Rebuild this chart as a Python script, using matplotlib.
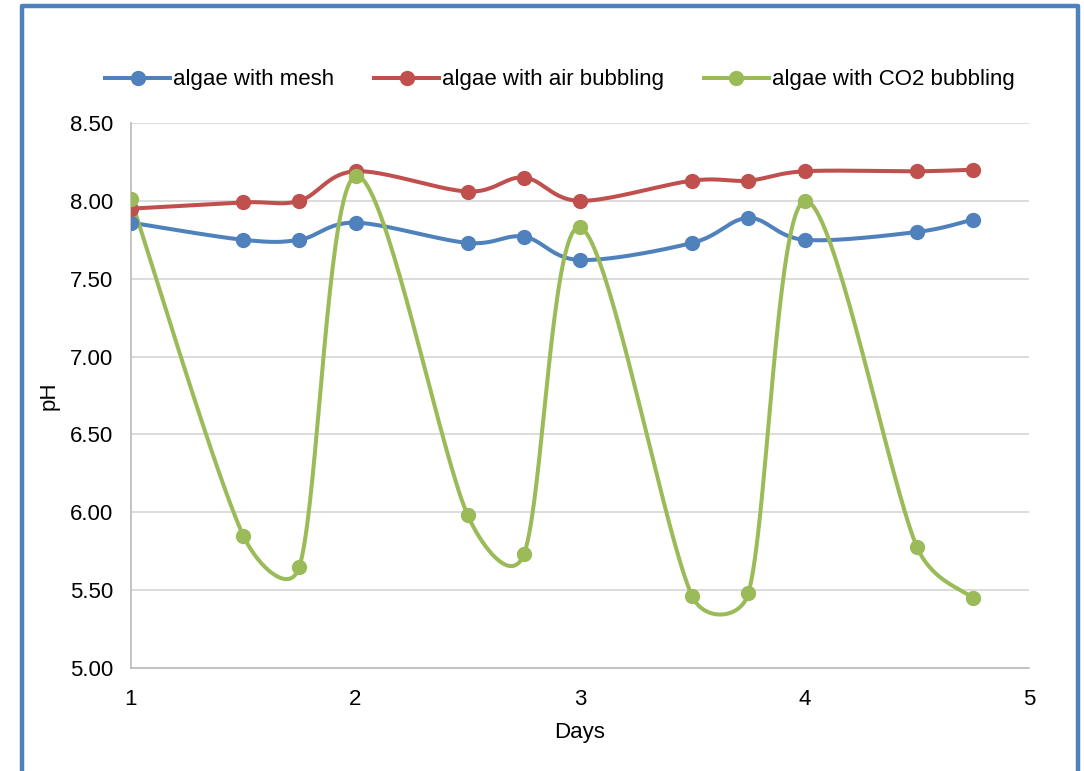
import numpy as np
import matplotlib
matplotlib.use("Agg")
import matplotlib.pyplot as plt
from matplotlib.lines import Line2D

plt.rcParams['font.family'] = ['Liberation Sans', 'DejaVu Sans']

days = [1, 1.5, 1.75, 2, 2.5, 2.75, 3, 3.5, 3.75, 4, 4.5, 4.75]
mesh = [7.86, 7.75, 7.75, 7.86, 7.73, 7.77, 7.62, 7.73, 7.89, 7.75, 7.80, 7.88]
air = [7.95, 7.99, 8.00, 8.19, 8.06, 8.15, 8.00, 8.13, 8.13, 8.19, 8.19, 8.20]
co2 = [8.01, 5.85, 5.65, 8.16, 5.98, 5.73, 7.83, 5.46, 5.48, 8.00, 5.78, 5.45]

series_names = ["algae with mesh", "algae with air bubbling", "algae with CO2 bubbling"]
colors = ["#4F81BD", "#C0504D", "#9BBB59"]
xticks = [1, 2, 3, 4, 5]
yticks = [5.0, 5.5, 6.0, 6.5, 7.0, 7.5, 8.0, 8.5]

W, H = 1084, 771
fig = plt.figure(figsize=(W / 100, H / 100), dpi=100)
ax = fig.add_axes([131 / W, 1 - 668 / H, (1029 - 131) / W, (668 - 123) / H])
ax.set_xlim(1, 5)
ax.set_ylim(5, 8.5)


def smooth(xs, ys, n=40):
    pts = ax.transData.transform(np.column_stack([xs, ys]))
    m = len(pts)
    out = [pts[0]]
    for i in range(m - 1):
        p0 = pts[i - 1] if i > 0 else pts[i]
        p1 = pts[i]
        p2 = pts[i + 1]
        p3 = pts[i + 2] if i + 2 < m else pts[i + 1]
        seg = np.linalg.norm(p2 - p1)
        t1 = (p2 - p0) / 6.0
        t2 = (p3 - p1) / 6.0
        n1 = np.linalg.norm(t1)
        n2 = np.linalg.norm(t2)
        cap = seg * 0.5
        if n1 > cap and n1 > 0:
            t1 = t1 * cap / n1
        if n2 > cap and n2 > 0:
            t2 = t2 * cap / n2
        c1 = p1 + t1
        c2 = p2 - t2
        t = np.linspace(0, 1, n)[1:, None]
        b = ((1 - t) ** 3) * p1 + 3 * ((1 - t) ** 2) * t * c1 + 3 * (1 - t) * t ** 2 * c2 + t ** 3 * p2
        out.extend(b)
    out = np.array(out)
    return ax.transData.inverted().transform(out)


for name, vals, c in zip(series_names, [mesh, air, co2], colors):
    curve = smooth(days, vals)
    ax.plot(curve[:, 0], curve[:, 1], color=c, lw=2.9, solid_capstyle='round', zorder=3)
    ax.plot(days, vals, 'o', color=c, ms=10, zorder=4)

ax.set_xticks(xticks)
ax.set_xticklabels([str(v) for v in xticks])
ax.set_yticks(yticks)
ax.set_yticklabels([f"{v:.2f}" for v in yticks])
ax.tick_params(axis='both', length=0, labelsize=16, colors='black')
ax.tick_params(axis='x', pad=15)
ax.tick_params(axis='y', pad=13)
ax.grid(axis='y', color='#D9D9D9', lw=1.3, zorder=0)
ax.set_axisbelow(True)
for s in ['top', 'right']:
    ax.spines[s].set_visible(False)
for s in ['left', 'bottom']:
    ax.spines[s].set_color('#BFBFBF')
    ax.spines[s].set_linewidth(1.3)
ax.set_xlabel("Days", fontsize=16, labelpad=9)
ax.set_ylabel("pH", fontsize=16, labelpad=7)

handles = [Line2D([], [], color=c, lw=2.9, marker='o', ms=10) for c in colors]
fig.legend(handles, series_names, loc='center', bbox_to_anchor=(560 / W, 1 - 80 / H),
           ncol=3, frameon=False, fontsize=16, handlelength=2.9, handletextpad=0.15,
           columnspacing=1.8)

bc = '#4F81BD'
fig.add_artist(Line2D([22 / W, 22 / W, 1078 / W, 1078 / W], [0, 1 - 6 / H, 1 - 6 / H, 0],
                      transform=fig.transFigure, color=bc, lw=3.2))

fig.savefig("out.png", dpi=100)
